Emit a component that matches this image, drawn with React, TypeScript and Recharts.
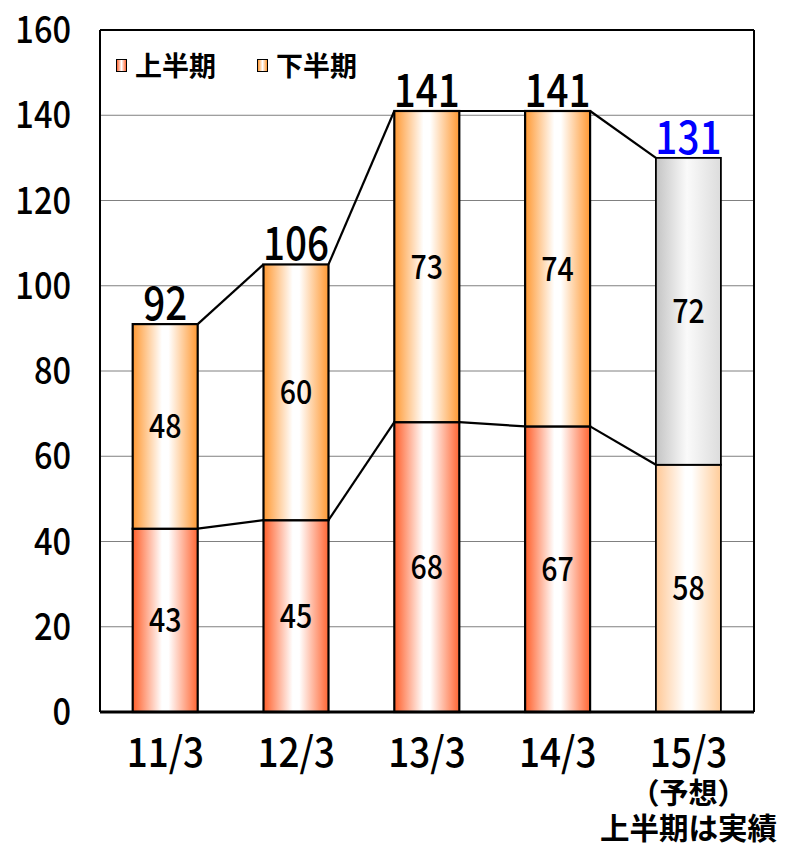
import { ComposedChart, Bar, XAxis, YAxis, CartesianGrid, LabelList, Legend } from 'recharts';

// 決算期ごとの売上（上半期・下半期）
const periods = ['11/3', '12/3', '13/3', '14/3', '15/3'];
const firstHalf = [43, 45, 68, 67, 58];
const secondHalf = [48, 60, 73, 74, 72];
const totals = [92, 106, 141, 141, 131];
const forecastIndex = 4;
const yTicks = [0, 20, 40, 60, 80, 100, 120, 140, 160];
const boundaryTicks = [1, 2, 3, 4];
const seriesNames = ['上半期', '下半期'];

const rows = periods.map((period, i) => ({
  period,
  first: firstHalf[i],
  second: secondHalf[i],
  total: totals[i],
}));

const W = 787;
const H = 843;
const MARGIN = { top: 30, right: 33, left: 0, bottom: 0 };
const Y_AXIS_W = 100;
const X_AXIS_H = 131;
const STEP = (W - MARGIN.left - MARGIN.right - Y_AXIS_W) / periods.length;

const JP_FONT = "'Noto Sans CJK JP', 'Noto Sans CJK SC', sans-serif";

// 等幅ゴシック風に横を詰めた数字
function NarrowText({ x, y, size, fill = '#000', anchor = 'middle', sx = 0.84, children }: any) {
  return (
    <text
      transform={`translate(${x},${y}) scale(${sx},1)`}
      textAnchor={anchor}
      fontFamily={JP_FONT}
      fontWeight={500}
      fontSize={size}
      fill={fill}
    >
      {children}
    </text>
  );
}

// 棒 + 次の棒の上端へつなぐ区分線
function makeSegmentShape(values: number[], bases: number[], fill: string, forecastFill: string) {
  return (props: any) => {
    const { x, y, width, height, index } = props;
    if (!height || height <= 0) return null;
    const ppu = height / values[index];
    const zero = y + height + bases[index] * ppu;
    const hasNext = index + 1 < values.length;
    const nextTop = hasNext ? zero - (bases[index + 1] + values[index + 1]) * ppu : 0;
    const isForecast = index === forecastIndex;
    return (
      <g>
        <rect
          x={x}
          y={y}
          width={width}
          height={height}
          fill={isForecast ? forecastFill : fill}
          stroke="#000"
          strokeWidth={isForecast ? 1.8 : 2.2}
        />
        {hasNext && (
          <line x1={x + width} y1={y} x2={x + STEP} y2={nextTop} stroke="#000" strokeWidth={2.2} />
        )}
      </g>
    );
  };
}

const LowerShape = makeSegmentShape(firstHalf, [0, 0, 0, 0, 0], 'url(#gFirst)', 'url(#gPeach)');
const UpperShape = makeSegmentShape(secondHalf, firstHalf, 'url(#gSecond)', 'url(#gGray)');

function SegmentLabel(props: any) {
  const { x, y, width, height, value } = props;
  return (
    <NarrowText x={x + width / 2} y={y + height / 2 + 12} size={34}>
      {value}
    </NarrowText>
  );
}

function TotalLabel(props: any) {
  const { x, y, width, index, value } = props;
  return (
    <NarrowText x={x + width / 2} y={y - 4} size={46} fill={index === forecastIndex ? '#0000FF' : '#000'}>
      {value}
    </NarrowText>
  );
}

function ValueTick(props: any) {
  const { x, y, payload } = props;
  return (
    <NarrowText x={x} y={y + 13} size={37} anchor="end" sx={0.88}>
      {payload.value}
    </NarrowText>
  );
}

function PeriodTick(props: any) {
  const { x, y, payload, index } = props;
  return (
    <g>
      <NarrowText x={x} y={y + 53} size={41} sx={0.9}>
        {payload.value}
      </NarrowText>
      {index === forecastIndex && (
        <>
          <text x={x} y={y + 90} textAnchor="middle" fontFamily={JP_FONT} fontWeight="bold" fontSize={29} fill="#000">
            （予想）
          </text>
          <text x={x} y={y + 125} textAnchor="middle" fontFamily={JP_FONT} fontWeight="bold" fontSize={29.5} fill="#000">
            上半期は実績
          </text>
        </>
      )}
    </g>
  );
}

const swatches = [
  'linear-gradient(to right, #FF6633, #FFFFFF 50%, #FF6633)',
  'linear-gradient(to right, #FF9933, #FFFFFF 50%, #FF9933)',
];

function LegendBox() {
  return (
    <div style={{ display: 'flex', alignItems: 'center', fontFamily: JP_FONT, fontWeight: 'bold', fontSize: 27 }}>
      {seriesNames.map((name, i) => (
        <div key={name} style={{ display: 'flex', alignItems: 'center', marginRight: i === 0 ? 41 : 0 }}>
          <span
            style={{
              display: 'inline-block',
              width: 9,
              height: 11,
              border: '1.5px solid #000',
              background: swatches[i],
              marginRight: 8,
            }}
          />
          <span style={{ lineHeight: '30px' }}>{name}</span>
        </div>
      ))}
    </div>
  );
}

export default function App() {
  return (
    <div style={{ position: 'absolute', left: 0, top: 0, width: W, height: H, background: '#fff' }}>
      <ComposedChart width={W} height={H} data={rows} margin={MARGIN} barCategoryGap="25%">
        <defs>
          <linearGradient id="gFirst" x1="0" y1="0" x2="1" y2="0">
            <stop offset="0%" stopColor="#FF5F2A" />
            <stop offset="45%" stopColor="#FFFFFF" />
            <stop offset="55%" stopColor="#FFFFFF" />
            <stop offset="100%" stopColor="#FF6633" />
          </linearGradient>
          <linearGradient id="gSecond" x1="0" y1="0" x2="1" y2="0">
            <stop offset="0%" stopColor="#FF9933" />
            <stop offset="45%" stopColor="#FFFFFF" />
            <stop offset="55%" stopColor="#FFFFFF" />
            <stop offset="100%" stopColor="#FF9933" />
          </linearGradient>
          <linearGradient id="gPeach" x1="0" y1="0" x2="1" y2="0">
            <stop offset="0%" stopColor="#FFC896" />
            <stop offset="45%" stopColor="#FFFFFF" />
            <stop offset="55%" stopColor="#FFFFFF" />
            <stop offset="100%" stopColor="#FFCC99" />
          </linearGradient>
          <linearGradient id="gGray" x1="0" y1="0" x2="1" y2="0">
            <stop offset="0%" stopColor="#C4C4C4" />
            <stop offset="48%" stopColor="#FAFAFA" />
            <stop offset="100%" stopColor="#DCDCDC" />
          </linearGradient>
        </defs>
        <CartesianGrid horizontal vertical={false} stroke="#808080" strokeWidth={1} />
        <XAxis
          dataKey="period"
          height={X_AXIS_H}
          axisLine={{ stroke: '#000', strokeWidth: 3 }}
          tickLine={false}
          tickSize={0}
          tick={<PeriodTick />}
          interval={0}
        />
        <XAxis
          xAxisId="bounds"
          type="number"
          domain={[0, 5]}
          ticks={boundaryTicks}
          mirror
          axisLine={false}
          tick={false}
          tickSize={8}
          tickLine={{ stroke: '#808080', strokeWidth: 1.5 }}
        />
        <XAxis xAxisId="frame" orientation="top" mirror tick={false} tickLine={false} axisLine={{ stroke: '#000', strokeWidth: 2 }} />
        <YAxis
          domain={[0, 160]}
          ticks={yTicks}
          width={Y_AXIS_W}
          axisLine={{ stroke: '#000', strokeWidth: 2 }}
          tickLine={false}
          tickSize={0}
          tickMargin={29}
          tick={<ValueTick />}
        />
        <YAxis yAxisId="frame" orientation="right" mirror tick={false} tickLine={false} axisLine={{ stroke: '#000', strokeWidth: 2 }} />
        <Legend
          layout="horizontal"
          verticalAlign="middle"
          align="center"
          wrapperStyle={{ top: 50, left: 116, width: 'auto' }}
          content={<LegendBox />}
        />
        <Bar dataKey="first" name={seriesNames[0]} stackId="s" shape={LowerShape} isAnimationActive={false}>
          <LabelList dataKey="first" content={<SegmentLabel />} />
        </Bar>
        <Bar dataKey="second" name={seriesNames[1]} stackId="s" shape={UpperShape} isAnimationActive={false}>
          <LabelList dataKey="second" content={<SegmentLabel />} />
          <LabelList dataKey="total" content={<TotalLabel />} />
        </Bar>
      </ComposedChart>
    </div>
  );
}
